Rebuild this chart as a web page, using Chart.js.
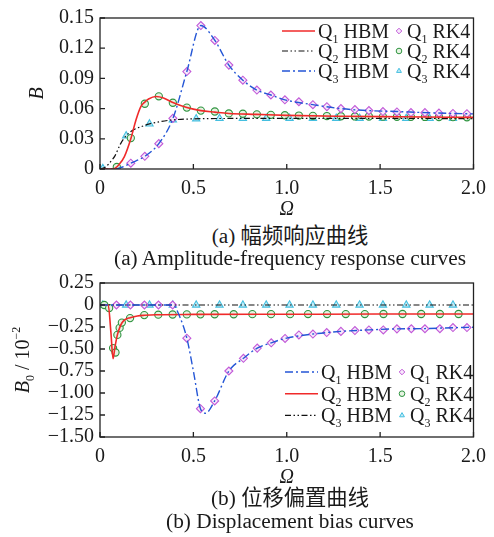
<!DOCTYPE html>
<html>
<head>
<meta charset="utf-8">
<script src="https://cdn.jsdelivr.net/npm/chart.js@4/dist/chart.umd.min.js"></script>
<style>
  body { margin: 0; background: #fff; }
  #wrap { position: relative; width: 494px; height: 537px; overflow: hidden; }
  .box { position: absolute; left: 0; width: 494px; }
  .cap { position: absolute; left: 0; width: 580px; text-align: center; color: #1a1a1a;
         font: 21.3px/24px "Liberation Serif", "Noto Sans CJK SC", serif; white-space: nowrap; }
</style>
</head>
<body>
<div id="wrap">
  <div class="box" style="top:0;height:222px"><canvas id="amp" width="494" height="222"></canvas></div>
  <div class="box" style="top:262px;height:228px"><canvas id="bias" width="494" height="228"></canvas></div>
  <div class="cap" style="top:224px">(a) 幅频响应曲线</div>
  <div class="cap" style="top:246px">(a) Amplitude-frequency response curves</div>
  <div class="cap" style="top:486px">(b) 位移偏置曲线</div>
  <div class="cap" style="top:509px">(b) Displacement bias curves</div>
</div>
<script>
// ---------------- data: (a) amplitude B ----------------
const xTickVals = [0, 0.5, 1, 1.5, 2];
const xTickLabels = ["0", "0.5", "1.0", "1.5", "2.0"];
const bTickVals = [0, 0.03, 0.06, 0.09, 0.12, 0.15];
const bTickLabels = ["0", "0.03", "0.06", "0.09", "0.12", "0.15"];

const ampRedX = [0, 0.07, 0.1, 0.13, 0.165, 0.193, 0.22, 0.24, 0.26, 0.3, 0.34, 0.39, 0.465, 0.54, 0.615, 0.69, 0.84, 1.0, 1.3, 1.6, 2.0];
const ampRedY = [0, 0, 0.004, 0.012, 0.030, 0.049, 0.0625, 0.0665, 0.0695, 0.072, 0.0705, 0.066, 0.061, 0.058, 0.0565, 0.0552, 0.0543, 0.0533, 0.0524, 0.0519, 0.0513];
const ampBlackX = [0, 0.03, 0.06, 0.08, 0.11, 0.14, 0.18, 0.22, 0.265, 0.32, 0.39, 0.5, 0.7, 1.0, 1.5, 2.0];
const ampBlackY = [0, 0.002, 0.008, 0.013, 0.025, 0.033, 0.039, 0.042, 0.0448, 0.047, 0.0488, 0.0498, 0.0502, 0.0503, 0.0503, 0.0500];
const ampBlueX = [0, 0.08, 0.12, 0.165, 0.24, 0.315, 0.39, 0.465, 0.54, 0.615, 0.69, 0.765, 0.84, 0.915, 0.99, 1.14, 1.29, 1.44, 1.59, 1.74, 1.89, 2.0];
const ampBlueY = [0, 0, 0.002, 0.0058, 0.0126, 0.0252, 0.050, 0.0968, 0.1425, 0.1277, 0.1032, 0.0882, 0.0784, 0.0735, 0.0687, 0.0639, 0.060, 0.058, 0.0571, 0.056, 0.0552, 0.0547];

const ampDiamondX = [0.165, 0.24, 0.315, 0.39, 0.465, 0.54, 0.615, 0.69, 0.765, 0.84, 0.915, 0.99, 1.065, 1.14, 1.215, 1.29, 1.365, 1.44, 1.515, 1.59, 1.665, 1.74, 1.815, 1.89, 1.965];
const ampDiamondY = [0.0058, 0.0126, 0.0252, 0.0503, 0.0968, 0.1425, 0.1277, 0.1032, 0.0882, 0.0784, 0.0735, 0.0687, 0.0668, 0.0639, 0.0619, 0.060, 0.059, 0.058, 0.0571, 0.0567, 0.0561, 0.056, 0.0555, 0.0552, 0.0549];
const ampCircleX = [0.09, 0.165, 0.24, 0.315, 0.39, 0.465, 0.54, 0.615, 0.69, 0.765, 0.84, 0.915, 0.99, 1.065, 1.14, 1.215, 1.29, 1.365, 1.44, 1.515, 1.59, 1.665, 1.74, 1.815, 1.89, 1.965];
const ampCircleY = [0.002, 0.0307, 0.0648, 0.0722, 0.0658, 0.061, 0.058, 0.0571, 0.0552, 0.0549, 0.0543, 0.0538, 0.0534, 0.0531, 0.0528, 0.0526, 0.0524, 0.0522, 0.0521, 0.052, 0.0519, 0.0518, 0.0517, 0.0516, 0.0515, 0.0514];
const ampTriX = [0.015, 0.14, 0.265, 0.39, 0.515, 0.64, 0.765, 0.89, 1.015, 1.14, 1.265, 1.39, 1.515, 1.64, 1.765, 1.89];
const ampTriY = [0.0005, 0.033, 0.0448, 0.0489, 0.0499, 0.0502, 0.0503, 0.0504, 0.0504, 0.0504, 0.0504, 0.0504, 0.0504, 0.0503, 0.0503, 0.0502];

// ---------------- data: (b) bias B0 (x10^-2) ----------------
const b0TickVals = [0.25, 0, -0.25, -0.5, -0.75, -1, -1.25, -1.5];
const b0TickLabels = ["0.25", "0", "\u22120.25", "\u22120.50", "\u22120.75", "\u22121.00", "\u22121.25", "\u22121.50"];

const biasBlueX = [0, 0.3, 0.39, 0.43, 0.465, 0.5, 0.538, 0.565, 0.614, 0.69, 0.768, 0.842, 0.917, 0.991, 1.14, 1.29, 1.44, 1.59, 1.74, 1.89, 2.0];
const biasBlueY = [0, 0, 0, -0.15, -0.377, -0.75, -1.178, -1.23, -1.09, -0.75, -0.606, -0.49, -0.43, -0.38, -0.33, -0.30, -0.283, -0.271, -0.268, -0.258, -0.252];
const biasRedX = [0, 0.044, 0.058, 0.07, 0.08, 0.093, 0.105, 0.117, 0.135, 0.161, 0.2, 0.237, 0.3, 0.5, 1.0, 1.5, 2.0];
const biasRedY = [0, 0, -0.3, -0.61, -0.48, -0.34, -0.26, -0.205, -0.165, -0.145, -0.125, -0.117, -0.11, -0.107, -0.105, -0.103, -0.102];
const biasBlackX = [0, 2.0];
const biasBlackY = [0, 0];

const biasDiamondX = [0.088, 0.163, 0.238, 0.313, 0.389, 0.465, 0.538, 0.614, 0.69, 0.768, 0.842, 0.917, 0.991, 1.065, 1.14, 1.214, 1.29, 1.365, 1.44, 1.517, 1.59, 1.667, 1.74, 1.82, 1.89, 1.965];
const biasDiamondY = [0, 0, 0, 0, 0, -0.377, -1.178, -1.09, -0.75, -0.606, -0.49, -0.43, -0.38, -0.34, -0.33, -0.313, -0.30, -0.29, -0.283, -0.283, -0.271, -0.27, -0.27, -0.27, -0.256, -0.256];
const biasCircleX = [0.023, 0.049, 0.07, 0.083, 0.093, 0.105, 0.117, 0.161, 0.237, 0.312, 0.389, 0.465, 0.538, 0.614, 0.716, 0.816, 0.916, 1.018, 1.114, 1.216, 1.316, 1.418, 1.518, 1.62, 1.72, 1.82, 1.92];
const biasCircleY = [0, -0.035, -0.49, -0.54, -0.34, -0.26, -0.2, -0.149, -0.115, -0.11, -0.108, -0.107, -0.106, -0.105, -0.105, -0.104, -0.104, -0.104, -0.103, -0.103, -0.103, -0.103, -0.102, -0.102, -0.102, -0.102, -0.102];
const biasTriX = [0.015, 0.14, 0.265, 0.39, 0.515, 0.64, 0.765, 0.89, 1.015, 1.14, 1.265, 1.39, 1.515, 1.64, 1.765, 1.89];
const biasTriY = [0, 0, 0, 0, 0, 0, 0, 0, 0, 0, 0, 0, 0, 0, 0, 0];

// ---------------- styles ----------------
const SERIF = '"Liberation Serif", "Times New Roman", serif';
const INK = "#1a1a1a";
const RED = { borderColor: "#f02a2a", borderWidth: 1.6, borderDash: [] };
const BLACK = { borderColor: "#111", borderWidth: 1.2, borderDash: [6, 2.5, 1.5, 2.5, 1.5, 2.5] };
const BLUE = { borderColor: "#2456d6", borderWidth: 1.4, borderDash: [8, 3, 2, 3] };
const DIAMOND = { pointStyle: "rectRot", pointRadius: 4, pointBorderColor: "#c25ad8", pointBackgroundColor: "#f7e9fb", pointBorderWidth: 1.1 };
const CIRCLE = { pointStyle: "circle", pointRadius: 3.6, pointBorderColor: "#2f9440", pointBackgroundColor: "#e6f3e2", pointBorderWidth: 1.1 };
const TRI = { pointStyle: "triangle", pointRadius: 4.2, pointBorderColor: "#45bfe0", pointBackgroundColor: "#c4ecf7", pointBorderWidth: 1.1 };

const pts = (xs, ys) => xs.map((x, i) => ({ x, y: ys[i] }));
const lineSet = (xs, ys, st) => Object.assign({ data: pts(xs, ys), pointRadius: 0, fill: false, cubicInterpolationMode: "monotone" }, st);
const markSet = (xs, ys, st) => Object.assign({ data: pts(xs, ys), showLine: false, borderColor: st.pointBorderColor, backgroundColor: st.pointBackgroundColor }, st);

// --------- frame / inward ticks / titles / legend (drawn with canvas text) ---------
function drawPieces(ctx, pieces, x, base) {
  let cx = x;
  pieces.forEach(p => {
    ctx.font = p.font;
    ctx.fillText(p.t, cx, base + (p.dy || 0));
    cx += ctx.measureText(p.t).width;
  });
  return cx;
}
function piecesWidth(ctx, pieces) {
  return pieces.reduce((w, p) => { ctx.font = p.font; return w + ctx.measureText(p.t).width; }, 0);
}
const qText = (sub, rest) => [
  { t: "Q", font: "20px " + SERIF },
  { t: sub, font: "12px " + SERIF, dy: 5 },
  { t: " " + rest, font: "20px " + SERIF }
];

const framePlugin = {
  id: "frame",
  afterDraw(chart, args, o) {
    const { ctx, chartArea: a, scales: { x, y } } = chart;
    ctx.save();
    ctx.strokeStyle = "#222";
    ctx.lineWidth = 1.3;
    ctx.setLineDash([]);
    ctx.strokeRect(a.left, a.top, a.right - a.left, a.bottom - a.top);
    ctx.beginPath();
    x.ticks.forEach(t => { const px = x.getPixelForValue(t.value); ctx.moveTo(px, a.bottom); ctx.lineTo(px, a.bottom - 5); });
    y.ticks.forEach(t => { const py = y.getPixelForValue(t.value); ctx.moveTo(a.left, py); ctx.lineTo(a.left + 5, py); });
    ctx.stroke();

    ctx.fillStyle = INK;
    ctx.textBaseline = "alphabetic";
    ctx.textAlign = "left";
    // x title
    ctx.font = "italic 20px " + SERIF;
    const ow = ctx.measureText("\u03a9").width;
    ctx.fillText("\u03a9", (a.left + a.right) / 2 - ow / 2, a.bottom + 46);
    // y title (rotated)
    ctx.save();
    ctx.translate(o.yTitleX, (a.top + a.bottom) / 2);
    ctx.rotate(-Math.PI / 2);
    const w = piecesWidth(ctx, o.yTitle);
    drawPieces(ctx, o.yTitle, -w / 2, 7);
    ctx.restore();

    // legend
    o.legend.forEach((row, i) => {
      const cy = o.legTop + i * o.legStep;
      const ln = chart.data.datasets[row.line];
      const mk = chart.data.datasets[row.mark];
      ctx.strokeStyle = ln.borderColor;
      ctx.lineWidth = ln.borderWidth;
      ctx.setLineDash(ln.borderDash || []);
      ctx.beginPath();
      ctx.moveTo(o.legX, cy);
      ctx.lineTo(o.legX + 33, cy);
      ctx.stroke();
      ctx.setLineDash([]);
      ctx.fillStyle = INK;
      drawPieces(ctx, qText(row.sub, "HBM"), o.legX + 36, cy + 7);
      ctx.strokeStyle = mk.pointBorderColor;
      ctx.fillStyle = mk.pointBackgroundColor;
      ctx.lineWidth = 1;
      Chart.helpers.drawPoint(ctx, { pointStyle: mk.pointStyle, radius: 2.8, rotation: 0, borderWidth: 1 }, o.legX + 117, cy);
      ctx.fillStyle = INK;
      drawPieces(ctx, qText(row.sub, "RK4"), o.legX + 125, cy + 7);
    });
    ctx.restore();
  }
};

function axisOpts(vals, labels, min, max, fitKey, fitVal) {
  return {
    type: "linear", min, max,
    grid: { display: false, drawTicks: false },
    border: { display: false },
    afterBuildTicks: s => { s.ticks = vals.map(v => ({ value: v })); },
    afterFit: s => { s[fitKey] = fitVal; },
    ticks: {
      autoSkip: false,
      maxRotation: 0,
      padding: fitKey === "width" ? 6 : 8,
      color: INK,
      font: { family: SERIF, size: 20 },
      callback: (v, i) => labels[i]
    }
  };
}

function makeChart(id, datasets, yVals, yLabels, yMin, yMax, padTop, xHeight, frameOpts) {
  return new Chart(document.getElementById(id), {
    type: "line",
    data: { datasets },
    options: {
      responsive: false,
      animation: false,
      layout: { padding: { top: padTop, right: 14, left: 0, bottom: 0 } },
      plugins: { legend: { display: false }, tooltip: { enabled: false }, frame: frameOpts },
      scales: {
        x: axisOpts(xTickVals, xTickLabels, 0, 2, "height", xHeight),
        y: axisOpts(yVals, yLabels, yMin, yMax, "width", 100)
      }
    },
    plugins: [framePlugin]
  });
}

// (a) amplitude-frequency
makeChart("amp", [
  lineSet(ampRedX, ampRedY, RED),
  lineSet(ampBlackX, ampBlackY, BLACK),
  lineSet(ampBlueX, ampBlueY, BLUE),
  markSet(ampDiamondX, ampDiamondY, DIAMOND),
  markSet(ampCircleX, ampCircleY, CIRCLE),
  markSet(ampTriX, ampTriY, TRI)
], bTickVals, bTickLabels, 0, 0.15, 13, 53, {
  yTitleX: 36,
  yTitle: [{ t: "B", font: "italic 20px " + SERIF }],
  legX: 282, legTop: 31, legStep: 20,
  legend: [{ sub: "1", line: 0, mark: 3 }, { sub: "2", line: 1, mark: 4 }, { sub: "3", line: 2, mark: 5 }]
});

// (b) displacement bias
makeChart("bias", [
  lineSet(biasBlueX, biasBlueY, BLUE),
  lineSet(biasRedX, biasRedY, RED),
  lineSet(biasBlackX, biasBlackY, BLACK),
  markSet(biasDiamondX, biasDiamondY, DIAMOND),
  markSet(biasCircleX, biasCircleY, CIRCLE),
  markSet(biasTriX, biasTriY, TRI)
], b0TickVals, b0TickLabels, -1.5, 0.25, 21, 53, {
  yTitleX: 22,
  yTitle: [
    { t: "B", font: "italic 20px " + SERIF },
    { t: "0", font: "12px " + SERIF, dy: 5 },
    { t: " / 10", font: "20px " + SERIF },
    { t: "\u22122", font: "12px " + SERIF, dy: -9 }
  ],
  legX: 285, legTop: 110, legStep: 21.7,
  legend: [{ sub: "1", line: 0, mark: 3 }, { sub: "2", line: 1, mark: 4 }, { sub: "3", line: 2, mark: 5 }]
});
</script>
</body>
</html>
